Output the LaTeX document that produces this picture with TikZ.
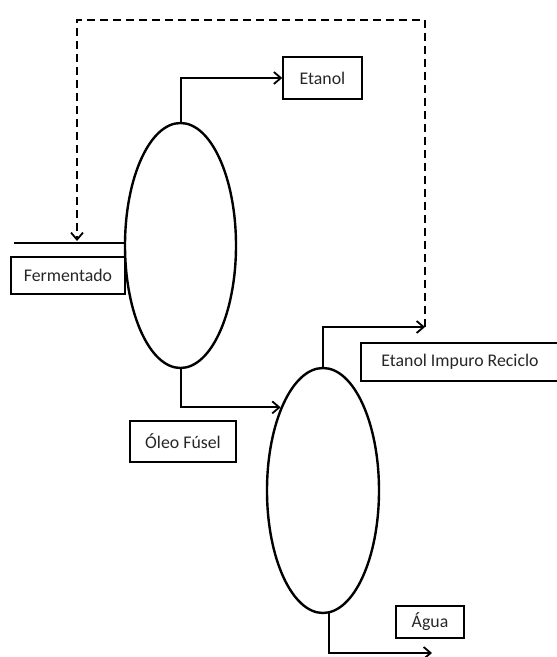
\documentclass[tikz,border=0pt]{standalone}
\usepackage{fontspec}
\setmainfont{Carlito}
\usetikzlibrary{arrows.meta,shapes.geometric}
\begin{document}
\begin{tikzpicture}[x=1pt,y=1pt,
  column/.style={draw,ellipse,line width=2.4pt,inner sep=0pt},
  label box/.style={draw,line width=1.5pt,inner sep=0pt,text=black!85,font=\fontsize{17.8}{20}\selectfont},
  flow/.style={line width=2pt,-{Straight Barb[length=7pt,width=12pt,line width=1.8pt]}},
  recycle/.style={line width=2pt,dash pattern=on 8pt off 5pt,-{Straight Barb[length=7pt,width=12pt,line width=1.8pt]}}
]
\useasboundingbox (0,0) rectangle (557,657);
% columns
\node[column,minimum width=111pt,minimum height=245pt] (col1) at (180.5,411.5) {};
\node[column,minimum width=112pt,minimum height=245pt] (col2) at (323,166.5) {};
% labels
\node[label box,minimum width=79pt,minimum height=42pt] (etanol) at (322.5,579) {Etanol};
\node[label box,minimum width=114pt,minimum height=37pt] (ferm) at (68,381.5) {Fermentado};
\node[label box,minimum width=106pt,minimum height=41pt] (oleo) at (183,215.5) {Óleo Fúsel};
\node[label box,minimum width=198pt,minimum height=38pt] (recic) at (460,295) {Etanol Impuro Reciclo};
\node[label box,minimum width=68pt,minimum height=32pt] (agua) at (430,35) {Água};
% coordinates
\coordinate (fstart) at (14,414);
\coordinate (rc) at (425,330);
\coordinate (dtr) at (425,637);
\coordinate (dtl) at (77,637);
\coordinate (dtip) at (77,416);
\coordinate (aguaend) at (432,4);
% flows
\draw[line width=2pt] (fstart) -- (fstart -| col1.west);
\draw[flow] (col1.north) |- (etanol.west);
\draw[flow] (col1.south) |- (col2.117);
\draw[flow] (col2.north) |- (rc);
\draw[flow] (col2.-87) |- (aguaend);
\draw[recycle] (rc) -- (dtr) -- (dtl) -- (dtip);
\end{tikzpicture}
\end{document}
